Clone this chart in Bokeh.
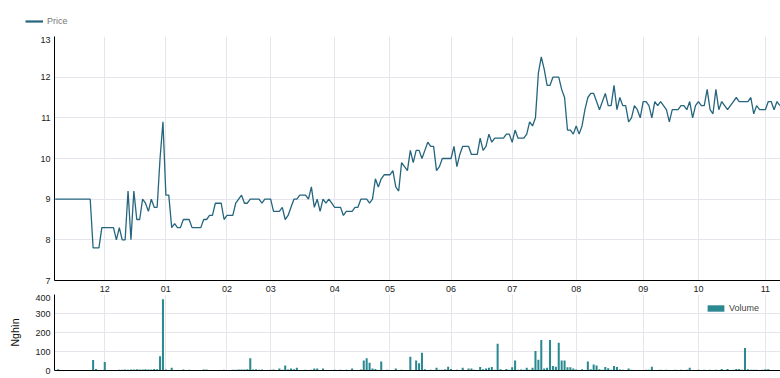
from bokeh.plotting import figure
from bokeh.models import Range1d, FixedTicker, Legend, LegendItem, ColumnDataSource
from bokeh.layouts import column
from bokeh.embed import file_html
from bokeh.resources import INLINE

# ---------------- data ----------------
price = [
    9.0, 9.0, 9.0, 9.0, 9.0, 9.0, 9.0, 9.0, 9.0, 9.0,
    9.0, 9.0, 9.0, 7.8, 7.8, 7.8, 8.3, 8.3, 8.3, 8.3,
    8.3, 8.0, 8.3, 8.0, 8.0, 9.2, 8.0, 9.2, 8.5, 8.5,
    9.0, 8.9, 8.7, 9.0, 8.8, 8.8, 10.0, 10.9, 9.1, 9.1,
    8.3, 8.4, 8.3, 8.3, 8.5, 8.5, 8.5, 8.3, 8.3, 8.3,
    8.3, 8.5, 8.5, 8.6, 8.6, 8.9, 8.9, 8.9, 8.5, 8.6,
    8.6, 8.6, 8.9, 9.0, 9.1, 8.9, 8.9, 9.0, 9.0, 9.0,
    9.0, 8.9, 9.0, 9.0, 9.0, 8.7, 8.7, 8.7, 8.8, 8.5,
    8.6, 8.8, 9.0, 9.0, 9.1, 9.1, 9.1, 9.0, 9.3, 8.8,
    9.0, 8.7, 9.0, 8.9, 9.0, 8.9, 8.8, 8.8, 8.8, 8.6,
    8.7, 8.7, 8.7, 8.8, 8.8, 9.0, 9.0, 9.0, 8.9, 9.0,
    9.5, 9.3, 9.5, 9.6, 9.6, 9.6, 9.7, 9.3, 9.2, 9.9,
    9.8, 9.7, 10.2, 9.9, 10.2, 10.2, 10.0, 10.2, 10.4, 10.3,
    10.3, 9.7, 9.8, 10.0, 10.0, 10.0, 10.0, 10.3, 9.8, 10.1,
    10.3, 10.3, 10.3, 10.1, 10.1, 10.1, 10.5, 10.2, 10.3, 10.6,
    10.4, 10.5, 10.5, 10.5, 10.5, 10.6, 10.6, 10.4, 10.7, 10.5,
    10.5, 10.5, 10.6, 10.9, 10.8, 11.0, 12.1, 12.5, 12.2, 11.8,
    11.8, 12.0, 12.0, 12.0, 11.7, 11.5, 10.7, 10.7, 10.6, 10.8,
    10.6, 10.8, 11.2, 11.5, 11.6, 11.6, 11.4, 11.2, 11.4, 11.6,
    11.3, 11.3, 11.8, 11.2, 11.5, 11.3, 11.3, 10.9, 11.0, 11.3,
    11.2, 11.0, 11.4, 11.4, 11.3, 11.0, 11.4, 11.3, 11.4, 11.3,
    11.2, 10.9, 11.2, 11.2, 11.2, 11.3, 11.3, 11.2, 11.4, 11.0,
    11.3, 11.4, 11.3, 11.3, 11.7, 11.2, 11.1, 11.7, 11.2, 11.4,
    11.3, 11.2, 11.3, 11.4, 11.5, 11.4, 11.4, 11.4, 11.4, 11.5,
    11.1, 11.3, 11.2, 11.2, 11.2, 11.4, 11.4, 11.2, 11.4, 11.3,
]

volume = [
    0, 6, 0, 0, 0, 0, 0, 0, 0, 0,
    0, 0, 3, 55, 8, 3, 0, 45, 0, 0,
    0, 3, 4, 4, 5, 4, 5, 5, 6, 5,
    5, 6, 5, 5, 8, 6, 75, 375, 5, 0,
    14, 0, 3, 0, 5, 0, 4, 0, 0, 0,
    0, 5, 5, 0, 0, 0, 0, 0, 4, 0,
    0, 4, 4, 5, 5, 5, 7, 65, 5, 6,
    4, 5, 3, 0, 4, 5, 0, 10, 4, 26,
    5, 10, 6, 15, 0, 3, 4, 3, 4, 10,
    10, 3, 10, 0, 3, 3, 4, 3, 4, 3,
    4, 3, 10, 3, 0, 5, 52, 65, 41, 10,
    8, 0, 48, 3, 4, 3, 3, 10, 3, 4,
    3, 3, 72, 3, 52, 38, 93, 6, 3, 4,
    3, 14, 4, 4, 6, 20, 8, 3, 4, 3,
    14, 3, 10, 10, 4, 3, 19, 6, 10, 15,
    19, 4, 141, 6, 3, 8, 4, 17, 52, 4,
    5, 4, 14, 4, 15, 103, 57, 160, 10, 14,
    160, 24, 20, 146, 52, 52, 17, 17, 10, 5,
    3, 6, 3, 48, 6, 31, 26, 6, 4, 19,
    12, 4, 24, 19, 5, 4, 3, 10, 4, 3,
    3, 0, 3, 4, 4, 20, 3, 3, 4, 3,
    4, 3, 3, 4, 3, 4, 3, 4, 15, 3,
    3, 4, 3, 4, 3, 4, 3, 4, 3, 8,
    3, 8, 3, 4, 8, 8, 4, 119, 6, 4,
    4, 4, 3, 4, 6, 6, 3, 3, 0, 0,
]

day_index = list(range(len(price)))
month_ticks = [17, 38, 59, 74, 96, 115, 136, 157, 179, 202, 221, 244]
month_labels = ["12", "01", "02", "03", "04", "05", "06", "07", "08", "09", "10", "11"]
price_ticks = [7, 8, 9, 10, 11, 12, 13]
volume_ticks = [0, 100, 200, 300, 400]

# ---------------- styling ----------------
FONT = "Liberation Sans"
LINE_COLOR = "#25657e"
BAR_COLOR = "#2b8a91"
GRID_COLOR = "#e6e5ec"

src = ColumnDataSource(dict(x=day_index, price=price, volume=volume))
x_range = Range1d(-0.27, 249.2)


def style(p):
    p.outline_line_color = None
    p.background_fill_color = "white"
    p.border_fill_color = "white"
    for ax in (p.xaxis[0], p.yaxis[0]):
        ax.axis_line_color = "black"
        ax.axis_line_width = 1
        ax.major_tick_line_color = None
        ax.minor_tick_line_color = None
        ax.major_tick_out = 0
        ax.major_tick_in = 0
        ax.major_label_text_font = FONT
        ax.major_label_text_font_size = "9px"
        ax.major_label_text_color = "#222222"
    p.xgrid.grid_line_color = GRID_COLOR
    p.ygrid.grid_line_color = GRID_COLOR
    p.yaxis.major_label_standoff = 4


# Legend strip above the price chart (own root, so its frame starts at x=0)
p0 = figure(width=780, height=36, x_range=Range1d(0, 1), y_range=Range1d(0, 1),
            output_backend="svg", toolbar_location=None,
            x_axis_location=None, y_axis_location=None,
            min_border_left=0, min_border_right=0, min_border_top=0, min_border_bottom=0)
p0.outline_line_color = None
p0.grid.visible = False
swatch_r = p0.line("x", "price", source=src, line_color=LINE_COLOR, line_width=2.2,
                   visible=False)
leg1 = Legend(items=[LegendItem(label="Price", renderers=[swatch_r])],
              location=(25, 10), orientation="horizontal",
              glyph_width=18, glyph_height=10, label_standoff=4,
              label_height=10, label_width=10,
              padding=0, margin=0, spacing=0,
              border_line_color=None, background_fill_alpha=0,
              inactive_fill_alpha=0,
              label_text_font=FONT, label_text_font_size="9px",
              label_text_color="#777777")
p0.add_layout(leg1, "center")

# Price chart
p1 = figure(width=780, height=258, x_range=x_range, y_range=Range1d(7, 13),
            output_backend="svg", toolbar_location=None,
            min_border_left=54, min_border_right=0, min_border_top=0, min_border_bottom=0)
style(p1)
p1.xaxis.ticker = FixedTicker(ticks=month_ticks)
p1.xaxis.major_label_overrides = dict(zip(month_ticks, month_labels))
p1.yaxis.ticker = FixedTicker(ticks=price_ticks)
p1.xaxis.major_label_standoff = 5
p1.line("x", "price", source=src, line_color=LINE_COLOR, line_width=1.3)

# Volume chart
p2 = figure(width=780, height=84, x_range=x_range, y_range=Range1d(0, 400),
            output_backend="svg", toolbar_location=None,
            min_border_left=54, min_border_right=0, min_border_top=0, min_border_bottom=8)
style(p2)
p2.xaxis.ticker = FixedTicker(ticks=[])
p2.xgrid[0].ticker = FixedTicker(ticks=month_ticks)
p2.xaxis.major_label_standoff = 0
p2.yaxis.ticker = FixedTicker(ticks=volume_ticks)
p2.yaxis.axis_label = "Nghìn"
p2.yaxis.axis_label_text_font = FONT
p2.yaxis.axis_label_text_font_size = "10.5px"
p2.yaxis.axis_label_text_font_style = "normal"
p2.yaxis.axis_label_text_color = "#111111"
p2.yaxis.axis_label_standoff = 11
bar_r = p2.vbar(x="x", top="volume", source=src, width=0.7,
                fill_color=BAR_COLOR, line_color=None)
leg2 = Legend(items=[LegendItem(label="Volume", renderers=[bar_r])],
              location=(651, 57), orientation="horizontal",
              glyph_width=21, glyph_height=8, label_standoff=3,
              label_height=10, label_width=10,
              padding=0, margin=0, spacing=0,
              border_line_color=None, background_fill_alpha=0,
              label_text_font=FONT, label_text_font_size="9px",
              label_text_color="#444444")
p2.add_layout(leg2, "center")

charts = column(p1, p2, spacing=0)
open("out.html", "w").write(file_html([p0, charts], INLINE))
